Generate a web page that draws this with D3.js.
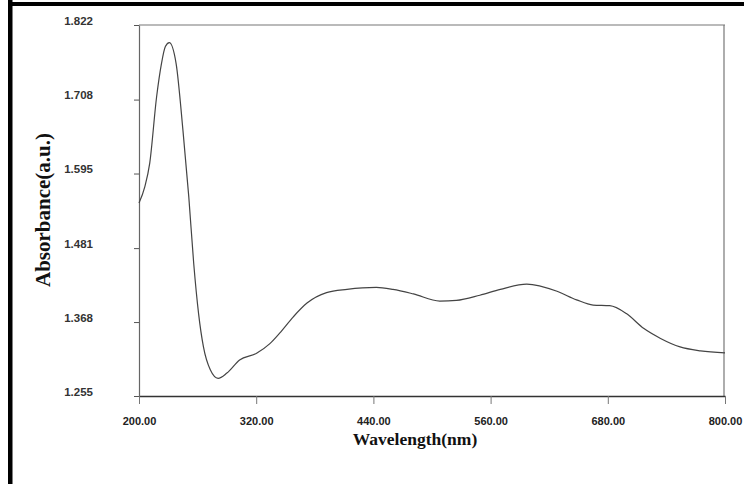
<!DOCTYPE html>
<html><head><meta charset="utf-8">
<script src="https://cdn.jsdelivr.net/npm/d3@7"></script>
<style>body{margin:0;background:#fff}svg{display:block}</style>
</head><body>
<script>
const wavelength = [200,206,211,218,223,227,231,238,245,251,256,261,266,273,281,290,303,320,334,344,358,372,392,413,443,460,481,508,525,549,570,597,628,648,665,682,699,717,734,754,775,800];
const absorbance = [1.550,1.575,1.611,1.712,1.763,1.789,1.795,1.763,1.661,1.559,1.458,1.381,1.330,1.295,1.282,1.290,1.310,1.320,1.335,1.351,1.376,1.397,1.413,1.418,1.421,1.418,1.411,1.400,1.401,1.409,1.418,1.426,1.415,1.402,1.394,1.393,1.381,1.358,1.343,1.330,1.324,1.321];
const xTicks = [200,320,440,560,680,800];
const yTicks = [1.255,1.368,1.481,1.595,1.708,1.822];
const xTitle = "Wavelength(nm)";
const yTitle = "Absorbance(a.u.)";

const W = 744, H = 484;
const L = 139, R = 725, T = 25, B = 396;
const svg = d3.select("body").append("svg").attr("width", W).attr("height", H);

// outer thick border (left & top)
svg.append("rect").attr("x",8).attr("y",0).attr("width",4.5).attr("height",H).attr("fill","#000");
svg.append("rect").attr("x",8).attr("y",2).attr("width",W-8).attr("height",4).attr("fill","#000");

const x = d3.scaleLinear().domain([200,800]).range([L,R]);
const y = d3.scaleLinear().domain([1.255,1.822]).range([B,T]);

// frame top/right
svg.append("line").attr("x1",L).attr("x2",R).attr("y1",T).attr("y2",T).attr("stroke","#777").attr("stroke-width",1.2);
svg.append("line").attr("x1",R-1).attr("x2",R-1).attr("y1",T).attr("y2",B).attr("stroke","#777").attr("stroke-width",1.2);

const xAxis = svg.append("g").attr("transform",`translate(0,${B})`)
  .call(d3.axisBottom(x).tickValues(xTicks).tickFormat(d3.format(".2f")).tickSize(8).tickSizeOuter(0));
xAxis.select(".domain").attr("stroke","#333").attr("stroke-width",1.3);
xAxis.selectAll(".tick line").attr("stroke","#777");
xAxis.selectAll(".tick text").attr("y",29).attr("dy",null)
  .attr("font-family","'Liberation Sans',Arial,sans-serif").attr("font-weight","bold").attr("font-size","11px").attr("fill","#222");

const yAxis = svg.append("g").attr("transform",`translate(${L},0)`)
  .call(d3.axisLeft(y).tickValues(yTicks).tickFormat(d3.format(".3f")).tickSize(5).tickSizeOuter(0));
yAxis.select(".domain").attr("stroke","#666").attr("stroke-width",1.2);
yAxis.selectAll(".tick line").attr("stroke","#555");
yAxis.selectAll(".tick text").attr("x",-46).attr("dy",null).attr("y",-1)
  .attr("font-family","'Liberation Sans',Arial,sans-serif").attr("font-weight","bold").attr("font-size","11.5px").attr("fill","#333");

// titles
svg.append("text").attr("x",415).attr("y",445).attr("text-anchor","middle")
  .attr("font-family","'Liberation Serif','Times New Roman',serif").attr("font-weight","bold").attr("font-size","17.5px").attr("fill","#111")
  .text(xTitle);
svg.append("text").attr("transform","translate(50,210) rotate(-90)").attr("text-anchor","middle")
  .attr("font-family","'Liberation Serif','Times New Roman',serif").attr("font-weight","bold").attr("font-size","21px").attr("fill","#111")
  .text(yTitle);

// curve
const data = wavelength.map((w,i)=>({w, a:absorbance[i]}));
svg.append("path").datum(data)
  .attr("d", d3.line().x(d=>x(d.w)).y(d=>y(d.a)).curve(d3.curveMonotoneX))
  .attr("fill","none").attr("stroke","#444").attr("stroke-width",1.2);
</script>
</body></html>
